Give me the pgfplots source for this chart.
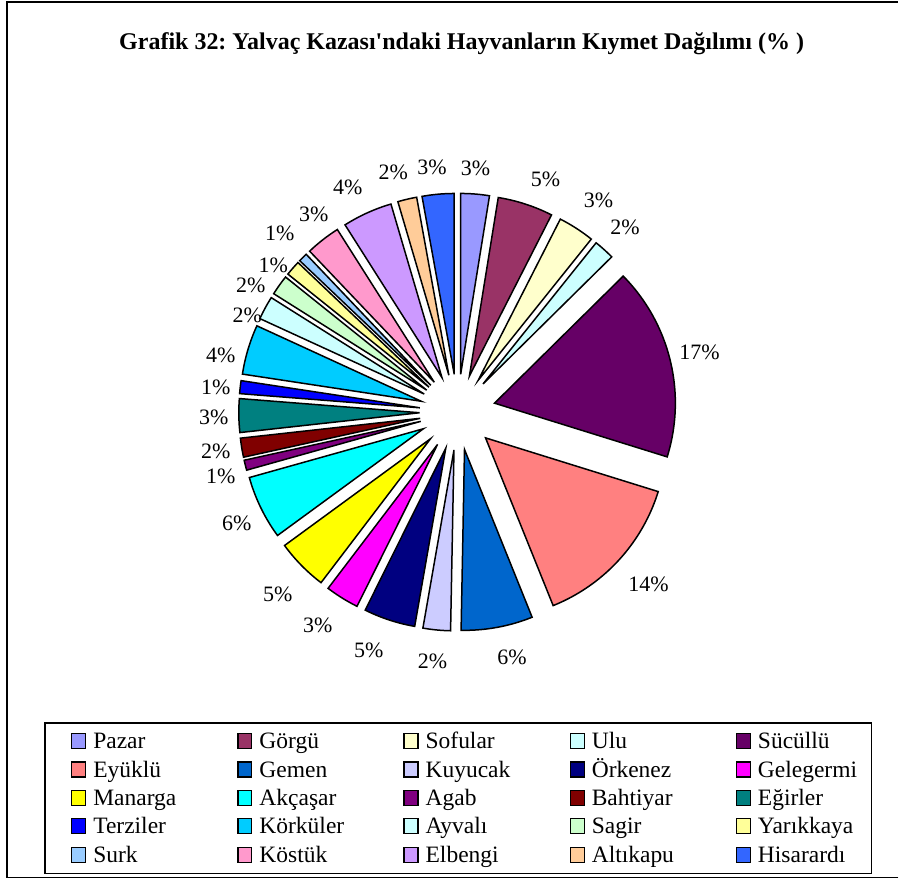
\documentclass[border=0pt]{standalone}
\usepackage{fontspec}
\setmainfont{Liberation Serif}[Ligatures=TeXOff]
\usepackage{pgfplots}
\usepackage{pgfplotstable}
\pgfplotsset{compat=1.18}
\frenchspacing
\definecolor{c1}{HTML}{9999FF}
\definecolor{c2}{HTML}{993366}
\definecolor{c3}{HTML}{FFFFCC}
\definecolor{c4}{HTML}{CCFFFF}
\definecolor{c5}{HTML}{660066}
\definecolor{c6}{HTML}{FF8080}
\definecolor{c7}{HTML}{0066CC}
\definecolor{c8}{HTML}{CCCCFF}
\definecolor{c9}{HTML}{000080}
\definecolor{c10}{HTML}{FF00FF}
\definecolor{c11}{HTML}{FFFF00}
\definecolor{c12}{HTML}{00FFFF}
\definecolor{c13}{HTML}{800080}
\definecolor{c14}{HTML}{800000}
\definecolor{c15}{HTML}{008080}
\definecolor{c16}{HTML}{0000FF}
\definecolor{c17}{HTML}{00CCFF}
\definecolor{c18}{HTML}{CCFFFF}
\definecolor{c19}{HTML}{CCFFCC}
\definecolor{c20}{HTML}{FFFF99}
\definecolor{c21}{HTML}{99CCFF}
\definecolor{c22}{HTML}{FF99CC}
\definecolor{c23}{HTML}{CC99FF}
\definecolor{c24}{HTML}{FFCC99}
\definecolor{c25}{HTML}{3366FF}
% value = share in %, lx/ly = label centre (pixels from top-left)
\pgfplotstableread{
name value col lx ly
Pazar 2.55 c1 476 168.5
Görgü 4.95 c2 546 179
Sofular 3.25 c3 599 200.5
Ulu 1.85 c4 625.5 227.5
Sücüllü 17.2 c5 700 353
Eyüklü 14.1 c6 649 585
Gemen 6.4 c7 512.5 657.5
Kuyucak 2.45 c8 433 662
Örkenez 4.6 c9 369 651
Gelegermi 3.0 c10 318 626
Manarga 4.6 c11 278 595
Akçaşar 5.7 c12 237 524
Agab 0.9 c13 221 476.5
Bahtiyar 1.7 c14 216 451.5
Eğirler 3.0 c15 214 418
Terziler 1.15 c16 216 387.5
Körküler 4.45 c17 221 355.5
Ayvalı 2.1 c18 247.5 315.5
Sagir 1.8 c19 251 286
Yarıkkaya 1.35 c20 273.5 266
Surk 0.8 c21 280 234
Köstük 3.1 c22 314 215
Elbengi 4.45 c23 348 188
Altıkapu 1.7 c24 393.5 172.5
Hisarardı 2.85 c25 432.5 167
}\piedata
\begin{document}
\begin{tikzpicture}
\begin{axis}[x=1pt, y=1pt, xmin=0, xmax=899, ymin=0, ymax=880,
  hide axis, clip=false,
  legend columns=5, legend cell align=left,
  legend image code/.code={\draw[#1, line width=1.3pt] (0pt,0pt) rectangle (14pt,15pt);},
  legend style={at={(0.0495,0.1784)}, anchor=north west, draw=black,
    line width=1.2pt, inner xsep=26pt, inner ysep=5pt, row sep=1.7pt,
    font=\fontsize{23.5}{28}\selectfont,
    nodes={inner sep=0pt, anchor=base west, text height=20.7pt, text depth=6pt},
    /tikz/every odd column/.style={column sep=7pt},
    /tikz/every even column/.style={column sep=0pt}},
]
\path (axis cs:0,0) rectangle (axis cs:899,880);
\draw[line width=1.5pt] (axis cs:899,2) -- (axis cs:7,2) -- (axis cs:7,878) -- (axis cs:899,878);
\node[font=\bfseries\fontsize{24}{28}\selectfont] at (axis cs:462,836)
  {Grafik 32: Yalvaç Kazası'ndaki Hayvanların Kıymet Dağılımı (\% )};
\def\cum{0}
\pgfplotsforeachungrouped \i in {0,...,24}{%
  \pgfplotstablegetelem{\i}{value}\of\piedata \let\v\pgfplotsretval
  \pgfplotstablegetelem{\i}{name}\of\piedata \let\nm\pgfplotsretval
  \pgfplotstablegetelem{\i}{col}\of\piedata \let\cl\pgfplotsretval
  \pgfplotstablegetelem{\i}{lx}\of\piedata \let\lx\pgfplotsretval
  \pgfplotstablegetelem{\i}{ly}\of\piedata \let\lyy\pgfplotsretval
  \pgfmathsetmacro\ly{880-\lyy}
  \pgfmathsetmacro\aS{90-3.6*\cum}
  \pgfmathsetmacro\aE{90-3.6*(\cum+\v)}
  \pgfmathsetmacro\aM{(\aS+\aE)/2}
  \pgfmathsetmacro\cx{458+38*cos(\aM)}
  \pgfmathsetmacro\cy{467.5+38*sin(\aM)}
  \pgfmathtruncatemacro\pct{round(\v)}
  \pgfmathtruncatemacro\colidx{mod(\i,5)}
  \ifnum\colidx=4 \def\cw{88pt}\else\def\cw{144pt}\fi
  \edef\doplot{\noexpand\addplot[fill=\cl, draw=black, line width=1.5pt,
    domain=\aE:\aS, samples=40, variable=\noexpand\t]
    ({\cx+181*cos(\noexpand\t)},{\cy+181*sin(\noexpand\t)}) -- (axis cs:\cx,\cy) -- cycle;}
  \doplot
  \addlegendentryexpanded{\noexpand\makebox[\cw][l]{\nm}}
  \edef\dolabel{\noexpand\node[font=\noexpand\fontsize{22}{24}\noexpand\selectfont]
    at (axis cs:\lx,\ly) {\pct\noexpand\%};}
  \dolabel
  \pgfmathsetmacro\cumnew{\cum+\v}
  \xdef\cum{\cumnew}
}
\end{axis}
\end{tikzpicture}
\end{document}
